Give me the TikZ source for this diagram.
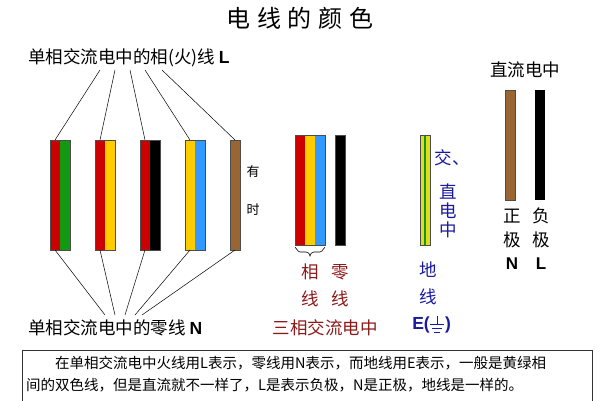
\documentclass[tikz,border=0pt]{standalone}
\usepackage{fontspec}
\setmainfont{Liberation Serif}
\newfontfamily\cjk{Noto Sans CJK SC}
\newfontfamily\hv{Liberation Sans}
\definecolor{wred}{HTML}{CC0000}
\definecolor{wgreen}{HTML}{119911}
\definecolor{wyel}{HTML}{FFCC00}
\definecolor{wblue}{HTML}{3399FF}
\definecolor{wbrown}{HTML}{996633}
\definecolor{dred}{HTML}{8B1A1A}
\definecolor{dblue}{HTML}{1A1AA0}
\definecolor{ygreen}{HTML}{DDDD22}
\begin{document}
\begin{tikzpicture}[x=1pt,y=-1pt,
  w/.style={draw=black!70,line width=0.5pt},
  lab/.style={font=\cjk\fontsize{17.5}{17.5}\selectfont,inner sep=0},
  fan/.style={line width=0.5pt}]
\useasboundingbox (0,0) rectangle (600,400);
\node[font=\cjk\fontsize{24}{24}\selectfont] (title) at (300,18) {电\;线\;的\;颜\;色};
\node[lab,anchor=west] (top) at (28,58) {单相交流电中的相(火)线 {\hv\bfseries L}};
\node[lab,anchor=west] (bot) at (28,328) {单相交流电中的零线 {\hv\bfseries N}};
% wires
\foreach \x/\c in {50/wred,60/wgreen,95/wred,105/wyel,140/wred,150/black,185/wyel,195/wblue,230/wbrown}
  \fill[\c] (\x,140) rectangle ++(10,110);
\foreach \x/\wd in {50/20,95/20,140/20,185/20,230/10}
  \draw[w] (\x,140) rectangle ++(\wd,110);
\foreach \x/\tx in {100/55,115/100,130/145,145/190,162/235}{
  \coordinate (t\tx) at (\x,70); \coordinate (w\tx) at (\tx,140);
  \draw[fan] (t\tx) -- (w\tx);}
\foreach \x/\tx in {105/55,115/100,125/145,135/190,142/235}{
  \coordinate (b\tx) at (\x,315); \coordinate (v\tx) at (\tx,250);
  \draw[fan] (v\tx) -- (b\tx);}
\node[font=\cjk\fontsize{13}{13}\selectfont] (you) at (253,172) {有};
\node[font=\cjk\fontsize{13}{13}\selectfont] (shi) at (253,210) {时};
% three-phase
\foreach \x/\c in {295/wred,305/wyel,315/wblue,335/black}
  \fill[\c] (\x,135) rectangle ++(10,110);
\draw[w] (295,135) rectangle (325,245);
\draw[w] (335,135) rectangle (345,245);
\draw[line width=0.6pt] (295,248) to[out=90,in=180] (300,252) -- (306,252) to[out=0,in=90] (310,256) to[out=90,in=180] (314,252) -- (320,252) to[out=0,in=90] (325,248);
\begin{scope}[every node/.style={lab,text=dred}]
\node (x1) at (310,272) {相}; \node (x2) at (310,299) {线};
\node (l1) at (340,272) {零}; \node (l2) at (340,299) {线};
\node (three) at (325,328) {三相交流电中};
\end{scope}
% ground
\fill[ygreen] (420,135) rectangle (430,245);
\fill[wgreen] (424,135) rectangle (426,245);
\draw[w] (420,135) rectangle (430,245);
\begin{scope}[every node/.style={lab,text=dblue}]
\node (j1) at (452,158) {交、};
\node (z1) at (448,192) {直}; \node (z2) at (448,211) {电}; \node (z3) at (448,230) {中};
\node (d1) at (428,270) {地}; \node (d2) at (428,297) {线};
\node[anchor=east] (E) at (430,325) {\hv\bfseries E(};
\node[anchor=west] (Er) at (445,325) {\hv\bfseries )};
\end{scope}
\draw[dblue,line width=0.8pt] (437,316)--(437,324) (430,324)--(444,324) (432,328)--(442,328) (434,332)--(440,332);
% DC
\node[lab] (dc) at (525,70) {直流电中};
\fill[wbrown] (505,90) rectangle (515,200); \draw[w] (505,90) rectangle (515,200);
\fill[black] (535,90) rectangle (545,200);
\node[lab] (p1) at (512,216) {正}; \node[lab] (p2) at (512,240) {极};
\node[lab,font=\hv\bfseries\fontsize{17}{17}\selectfont] (p3) at (512,264) {N};
\node[lab] (n1) at (541,216) {负}; \node[lab] (n2) at (541,240) {极};
\node[lab,font=\hv\bfseries\fontsize{17}{17}\selectfont] (n3) at (541,264) {L};
% box
\draw[black!80,line width=0.8pt] (22,405) -- (22,350) -- (592,350) -- (592,405);
\node[anchor=west,inner sep=0,font=\cjk\fontsize{14.5}{14.5}\selectfont] (t1) at (55,363) {在单相交流电中火线用L表示，零线用N表示，而地线用E表示，一般是黄绿相};
\node[anchor=west,inner sep=0,font=\cjk\fontsize{14.5}{14.5}\selectfont] (t2) at (26,385) {间的双色线，但是直流就不一样了，L是表示负极，N是正极，地线是一样的。};
\end{tikzpicture}
\end{document}
